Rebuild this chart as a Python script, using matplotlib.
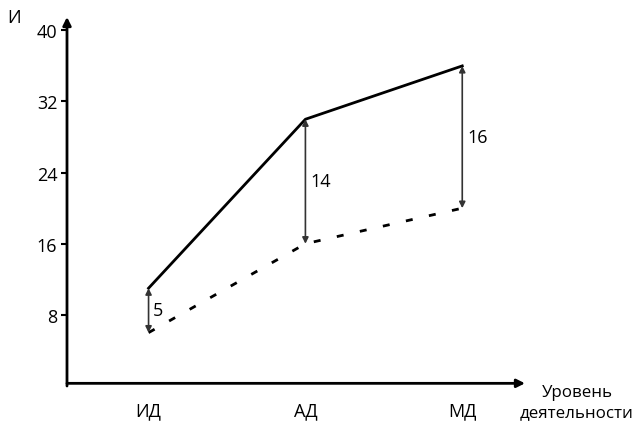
import matplotlib.pyplot as plt

plt.rcParams['font.family'] = ['Open Sans', 'DejaVu Sans']

categories = ["ИД", "АД", "МД"]
upper = [11, 30, 36]
lower = [6, 16, 20]
yticks = [8, 16, 24, 32, 40]

x = [1, 2, 3]

fig = plt.figure(figsize=(6.4, 4.27), dpi=100)
ax = fig.add_axes([67 / 640, 40 / 427, 458 / 640, 369 / 427])
ax.set_xlim(0.48, 3.40)
ax.set_ylim(0, 41.5)

for s in ax.spines.values():
    s.set_visible(False)

# axes with arrows
ax.annotate("", xy=(0.48, 41.5), xytext=(0.48, 0), xycoords="data",
            arrowprops=dict(arrowstyle="-|>", color="black", lw=2,
                            mutation_scale=12, shrinkA=0, shrinkB=0),
            annotation_clip=False)
ax.annotate("", xy=(3.40, 0.3), xytext=(0.48, 0.3), xycoords="data",
            arrowprops=dict(arrowstyle="-|>", color="black", lw=2,
                            mutation_scale=12, shrinkA=0, shrinkB=0),
            annotation_clip=False)

ax.plot(x, upper, color="black", lw=2)
ax.plot(x, lower, color="black", lw=2, linestyle=(0, (2.5, 6)))

ax.set_yticks(yticks)
ax.set_yticklabels([str(v) for v in yticks], fontsize=13)
ax.tick_params(axis="y", length=4, width=1.5, pad=3)
ax.set_xticks(x)
ax.set_xticklabels(categories, fontsize=13)
ax.tick_params(axis="x", length=0, pad=11)

# difference arrows
for xi, hi, lo in zip(x, upper, lower):
    ax.annotate("", xy=(xi, lo), xytext=(xi, hi),
                arrowprops=dict(arrowstyle="<|-|>", color="#333333", lw=1.2,
                                mutation_scale=9, shrinkA=0, shrinkB=0))
    ax.text(xi + 0.03, (hi + lo) / 2, str(hi - lo), fontsize=13,
            ha="left", va="center")

fig.text(14 / 640, 1 - 18 / 427, "И", fontsize=13, ha="center", va="center")
fig.text(577 / 640, 1 - 403 / 427, "Уровень\nдеятельности", fontsize=12.2,
         ha="center", va="center", linespacing=1.3)

fig.savefig("out.png", dpi=100)
